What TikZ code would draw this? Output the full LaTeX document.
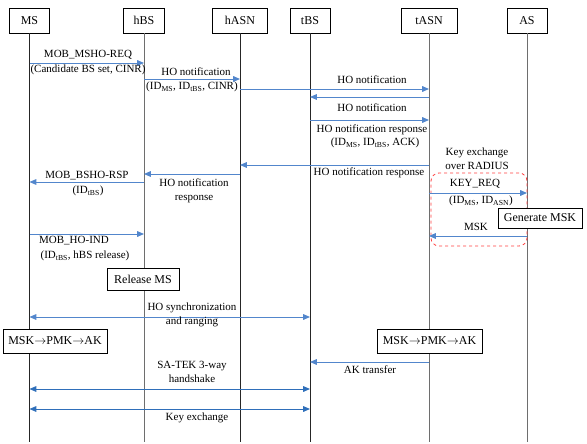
\documentclass[tikz,border=0pt]{standalone}
\usepackage{fontspec}
\setmainfont{Liberation Serif}
\usepackage{xcolor}
\usepackage{tikz}
\usetikzlibrary{arrows.meta,positioning}
\definecolor{msgblue}{HTML}{5286CC}
\definecolor{deepblue}{HTML}{2F6FBA}
\definecolor{lifegray}{HTML}{6E6E6E}

\begin{document}
\begin{tikzpicture}[
  x=1pt,y=-1pt,
  ent/.style={draw,line width=0.8pt,minimum width=40pt,minimum height=25pt,font=\fontsize{12}{14}\selectfont},
  act/.style={draw,line width=0.8pt,fill=white,inner sep=2pt,font=\fontsize{12}{14}\selectfont},
  lbl/.style={inner sep=0.5pt,align=center,font=\fontsize{11}{14}\selectfont},
  life/.style={line width=0.8pt},
  msg/.style={-{Triangle[length=2.4mm,width=2mm]},line width=0.9pt,draw=msgblue},
  bimsg/.style={{Triangle[length=2.4mm,width=2mm]}-{Triangle[length=2.4mm,width=2mm]},line width=0.9pt,draw=deepblue}
]
\useasboundingbox (0,0) rectangle (587,444);
% entities
\node[ent] (ms) at (29.5,20.5) {MS};
\node[ent,minimum width=41pt] (hbs) at (144,20.5) {hBS};
\node[ent,minimum width=55pt] (hasn) at (240,20.5) {hASN};
\node[ent] (tbs) at (310,20.5) {tBS};
\node[ent,minimum width=56pt] (tasn) at (429,20.5) {tASN};
\node[ent] (as) at (527,20.5) {AS};
% lifelines
\foreach \n/\c in {ms/black!85,hbs/lifegray,hasn/black!85,tbs/black!85,tasn/lifegray,as/lifegray}
  \draw[life,draw=\c] (\n.south) -- (\n |- 0,442);

% messages
\draw[msg] (ms |- 0,63) -- (hbs |- 0,63);
\node[lbl] (l1) at (88,55) {MOB\_MSHO-REQ};
\node[lbl] (l2) at (88,70) {(Candidate BS set, CINR)};

\draw[msg] (hbs |- 0,79) -- (hasn |- 0,79);
\node[lbl] (l3) at (196,72) {HO notification};
\node[lbl] (l4) at (192,87) {(ID\textsubscript{MS}, ID\textsubscript{tBS}, CINR)};

\draw[msg] (hasn |- 0,89) -- (tasn |- 0,89);
\node[lbl] (l5) at (372,80) {HO notification};
\draw[msg] (tasn |- 0,97) -- (tbs |- 0,97);

\draw[msg] (tbs |- 0,120) -- (tasn |- 0,120);
\node[lbl] (l6) at (372,108) {HO notification};
\node[lbl] (l7) at (372,130) {HO notification response};
\node[lbl] (l8) at (375,143) {(ID\textsubscript{MS}, ID\textsubscript{tBS}, ACK)};

\draw[msg] (tasn |- 0,165) -- (hasn |- 0,165);
\node[lbl] (l9) at (369,173) {HO notification response};

\draw[msg] (hasn |- 0,174) -- (hbs |- 0,174);
\node[lbl] (l10) at (194,191) {HO notification\\response};

\draw[msg] (hbs |- 0,182) -- (ms |- 0,182);
\node[lbl] (l11) at (87,176) {MOB\_BSHO-RSP};
\node[lbl] (l12) at (88,191) {(ID\textsubscript{tBS})};

\draw[msg] (ms |- 0,234) -- (hbs |- 0,234);
\node[lbl] (l13) at (74,241) {MOB\_HO-IND};
\node[lbl] (l14) at (85,256) {(ID\textsubscript{tBS}, hBS release)};

\node[act,minimum width=72pt,minimum height=22pt] (rel) at (143,279) {Release MS};

% key exchange over RADIUS
\node[lbl] (l15) at (477,159) {Key exchange\\over RADIUS};
\node[draw=red!75,dashed,line width=0.8pt,rounded corners=8pt,minimum width=96pt,minimum height=73pt] (radius) at (479,209.5) {};
\draw[msg] (tasn |- 0,193) -- (as |- 0,193);
\node[lbl] (l16) at (475,184) {KEY\_REQ};
\node[lbl] (l17) at (481,201) {(ID\textsubscript{MS}, ID\textsubscript{ASN})};
\node[act,minimum width=84pt,minimum height=20pt] (gen) at (540,218) {Generate MSK};
\draw[msg] (as |- 0,236) -- (tasn |- 0,236);
\node[lbl] (l18) at (476,227) {MSK};

% handover and keys
\draw[bimsg,draw=msgblue] (ms |- 0,317) -- (tbs |- 0,317);
\node[lbl] (l19) at (192,315) {HO synchronization\\and ranging};

\node[act,minimum width=104pt,minimum height=24pt] (keyl) at (55,341) {MSK$\rightarrow$PMK$\rightarrow$AK};
\node[act,minimum width=105pt,minimum height=24pt] (keyr) at (429.5,341) {MSK$\rightarrow$PMK$\rightarrow$AK};

\draw[msg] (tasn |- 0,362) -- (tbs |- 0,362);
\node[lbl] (l20) at (370,370) {AK transfer};

\draw[bimsg] (ms |- 0,389) -- (tbs |- 0,389);
\node[lbl] (l21) at (192,372) {SA-TEK 3-way\\handshake};

\draw[bimsg] (ms |- 0,409) -- (tbs |- 0,409);
\node[lbl] (l22) at (197,418) {Key exchange};
\end{tikzpicture}
\end{document}
